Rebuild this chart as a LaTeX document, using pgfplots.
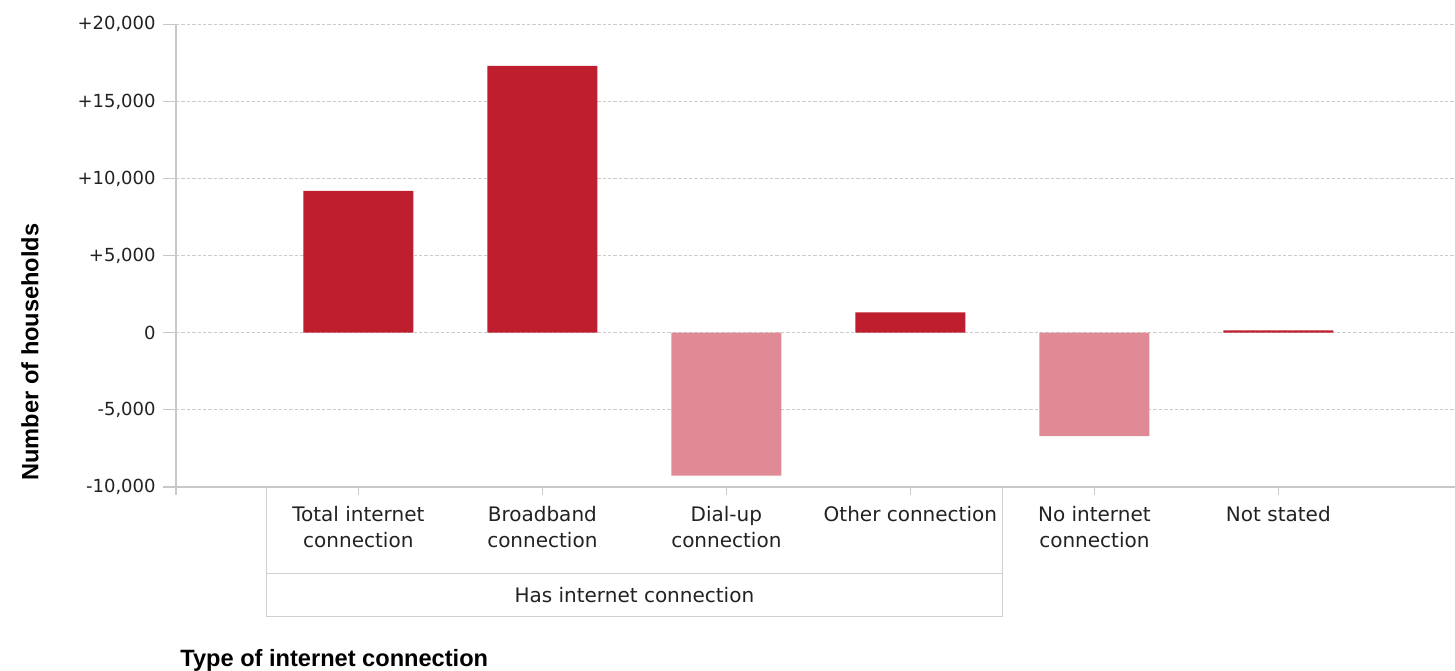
\documentclass[border=0pt]{standalone}
\usepackage{pgfplots}
\pgfplotsset{compat=1.18}
\usepackage{fontspec}
\setmainfont{DejaVu Sans}
\newfontfamily\libsans{Liberation Sans}
\definecolor{darkred}{HTML}{BE1E2D}
\definecolor{pinkred}{HTML}{E08A96}
\definecolor{gridc}{HTML}{CCCCCC}
\definecolor{axc}{HTML}{C8C8C8}
\definecolor{boxc}{HTML}{D0D0D0}
\definecolor{txt}{HTML}{222222}
\begin{document}
\begin{tikzpicture}
\path[use as bounding box] (-88pt,-91.55pt) rectangle (639.5pt,243.45pt);
\begin{axis}[
  scale only axis, width=639.5pt, height=231.3pt,
  xmin=-0.991, xmax=5.96, ymin=-10000, ymax=20000,
  axis x line*=bottom, axis y line*=left,
  axis line style={draw=axc, line width=0.6pt},
  scaled y ticks=false,
  ytick={-10000,-5000,...,20000},
  yticklabels={{-10,000},{-5,000},0,{+5,000},{+10,000},{+15,000},{+20,000}},
  xtick={0,...,5},
  xticklabels={{Total internet\\connection},{Broadband\\connection},{Dial-up\\connection},{Other connection},{No internet\\connection},{Not stated}},
  xticklabel style={align=center, font=\fontsize{10}{13}\selectfont, text=txt, anchor=north, inner sep=0pt, yshift=-3pt},
  yticklabel style={font=\fontsize{9}{11}\selectfont, text=txt, anchor=east, inner sep=0pt, xshift=-3.5pt},
  tick align=outside, major tick length=6.5pt,
  ytick style={draw=axc, line width=0.6pt},
  xtick style={draw=none},
  ymajorgrids,
  grid style={draw=gridc, dash pattern=on 1.7pt off 1pt, line width=0.5pt},
  ybar, bar width=0.598,
  clip=false,
]
\addplot[fill=darkred, draw=none, bar shift=0pt] coordinates {(0,9200) (1,17300) (3,1320) (5,150)};
\addplot[fill=pinkred, draw=none, bar shift=0pt] coordinates {(2,-9270) (4,-6700)};
\draw[axc, line width=0.6pt] (rel axis cs:0,0) -- ++(0pt,-4pt);
\pgfplotsinvokeforeach{0,...,5}{\draw[axc, line width=0.6pt] (axis cs:#1,-10000) -- ++(0pt,-4pt);}
\draw[boxc, line width=0.6pt] (axis cs:-0.5,-10000) -- ++(0pt,-64.9pt);
\draw[boxc, line width=0.6pt] (axis cs:3.5,-10000) -- ++(0pt,-64.9pt);
\draw[boxc, line width=0.6pt] ([yshift=-43.2pt]axis cs:-0.5,-10000) -- ([yshift=-43.2pt]axis cs:3.5,-10000);
\draw[boxc, line width=0.6pt] ([yshift=-64.9pt]axis cs:-0.5,-10000) -- ([yshift=-64.9pt]axis cs:3.5,-10000);
\node[anchor=base, font=\fontsize{10}{13}\selectfont, text=txt, inner sep=0pt] at ([yshift=-58pt]axis cs:1.5,-10000) {Has internet connection};
\end{axis}
\node[rotate=90, anchor=center, font=\libsans\bfseries\fontsize{11.8}{14}\selectfont, text=black] at (-73pt,67.45pt) {Number of households};
\node[anchor=base west, inner sep=0pt, font=\libsans\bfseries\fontsize{11.8}{14}\selectfont, text=black] at (2pt,-89.55pt) {Type of internet connection};
\end{tikzpicture}
\end{document}
